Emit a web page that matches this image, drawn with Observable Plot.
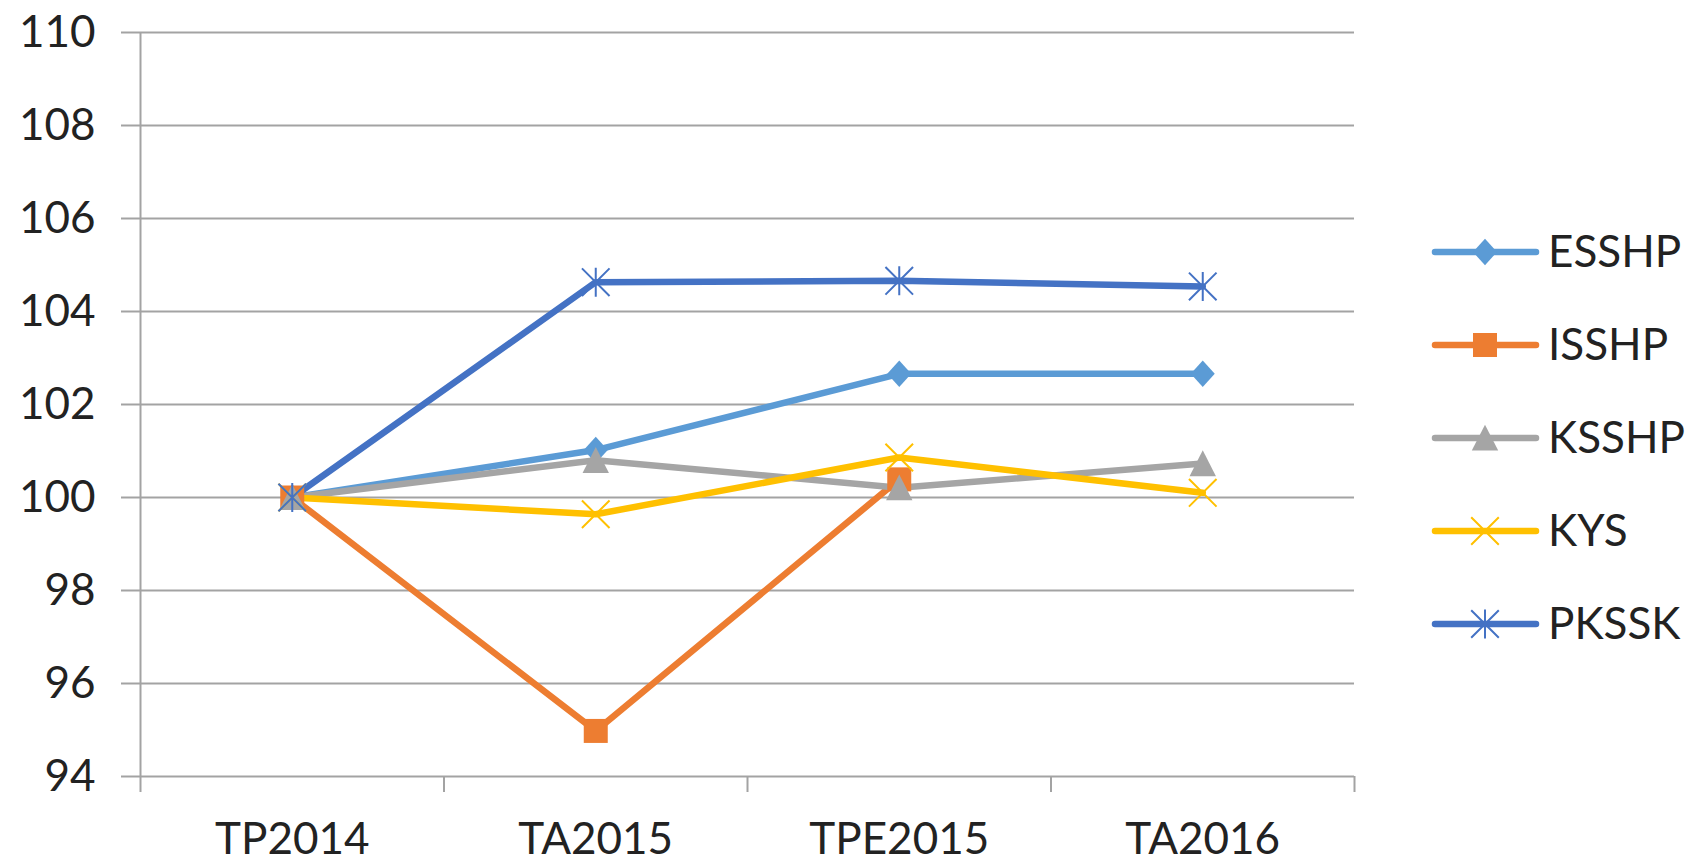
<!DOCTYPE html>
<html>
<head>
<meta charset="utf-8">
<script src="https://cdn.jsdelivr.net/npm/d3@7"></script>
<script src="https://cdn.jsdelivr.net/npm/@observablehq/plot@0.6"></script>
<style>
  html, body { margin: 0; padding: 0; background: #fff; }
  #wrap { position: relative; width: 1685px; height: 862px; font-family: Lato, "Open Sans", sans-serif; }
  #legend { position: absolute; left: 1400px; top: 200px; }
</style>
</head>
<body>
<div id="wrap"><div id="chart"></div><svg id="legend" width="285" height="470"></svg></div>
<script>
// ---- data ----
const categories = ["TP2014", "TA2015", "TPE2015", "TA2016"];
const seriesNames = ["ESSHP", "ISSHP", "KSSHP", "KYS", "PKSSK"];
const ESSHP = [100, 101.02, 102.66, 102.66];
const ISSHP = [100, 94.98, 100.39, null];
const KSSHP = [100, 100.80, 100.21, 100.73];
const KYS   = [100, 99.64, 100.86, 100.10];
const PKSSK = [100, 104.63, 104.66, 104.54];
const yTicks = [94, 96, 98, 100, 102, 104, 106, 108, 110];

// ---- styles ----
const colors = ["#5B9BD5", "#ED7D31", "#A5A5A5", "#FFC000", "#4472C4"];
const gridColor = "#a3a3a3";
const textColor = "#222";
const lineWidth = 6.5;

// custom Excel-like marker symbols
const sz = size => Math.sqrt(size / Math.PI);
const symbols = {
  diamond: {draw(c, size) { const s = sz(size); c.moveTo(0, -s * 1.1); c.lineTo(s, 0); c.lineTo(0, s * 1.1); c.lineTo(-s, 0); c.closePath(); }},
  square: {draw(c, size) { const s = sz(size); c.moveTo(-s, -s); c.lineTo(s, -s); c.lineTo(s, s); c.lineTo(-s, s); c.closePath(); }},
  triangle: {draw(c, size) { const s = sz(size); c.moveTo(0, -s * 1.1); c.lineTo(s * 1.1, s * 1.05); c.lineTo(-s * 1.1, s * 1.05); c.closePath(); }},
  x: {draw(c, size) { const s = sz(size) * 1.15; c.moveTo(-s, -s); c.lineTo(s, s); c.moveTo(-s, s); c.lineTo(s, -s); }},
  star: {draw(c, size) { const s = sz(size) * 1.15; c.moveTo(-s, -s); c.lineTo(s, s); c.moveTo(-s, s); c.lineTo(s, -s); c.moveTo(0, -s * 1.05); c.lineTo(0, s * 1.05); }}
};
const markerDefs = [
  {symbol: symbols.diamond, filled: true},
  {symbol: symbols.square, filled: true},
  {symbol: symbols.triangle, filled: true},
  {symbol: symbols.x, filled: false},
  {symbol: symbols.star, filled: false}
];

const seriesValues = [ESSHP, ISSHP, KSSHP, KYS, PKSSK];
const rows = [];
seriesNames.forEach((name, s) => {
  seriesValues[s].forEach((v, i) => {
    if (v != null) rows.push({series: name, i, v, cat: categories[i]});
  });
});

const indices = categories.map((_, i) => i);
const boundaries = [...indices.map(i => i - 0.5), categories.length - 0.5];
const xDomain = [boundaries[0], boundaries[boundaries.length - 1]];

const dotMarks = seriesNames.map((name, s) => {
  const m = markerDefs[s];
  return Plot.dot(rows.filter(d => d.series === name), {
    x: "i", y: "v", r: 12, symbol: () => m.symbol,
    fill: m.filled ? colors[s] : "none",
    stroke: m.filled ? "none" : colors[s],
    strokeWidth: m.filled ? 0 : 2
  });
});

const chart = Plot.plot({
  width: 1685,
  height: 862,
  marginLeft: 140,
  marginRight: 331,
  marginTop: 32,
  marginBottom: 86,
  style: {fontFamily: "Lato, 'Open Sans', sans-serif", fontSize: "44px", background: "#fff", color: textColor},
  x: {type: "linear", domain: xDomain},
  y: {domain: [yTicks[0], yTicks[yTicks.length - 1]]},
  symbol: {type: "identity"},
  color: {domain: seriesNames, range: colors},
  marks: [
    Plot.gridY(yTicks, {stroke: gridColor, strokeOpacity: 1, strokeWidth: 2}),
    Plot.ruleX([xDomain[0]], {stroke: gridColor, strokeWidth: 2}),
    Plot.axisY({ticks: yTicks, tickSize: 19, tickPadding: 26, stroke: gridColor, strokeWidth: 2, fill: textColor, label: null, fontSize: 44}),
    Plot.axisX({ticks: boundaries, tickSize: 16, tickFormat: () => "", stroke: gridColor, strokeWidth: 2, label: null}),
    Plot.axisX({ticks: indices, tickSize: 0, tickPadding: 46, tickFormat: i => categories[i], fill: textColor, label: null, fontSize: 44}),
    Plot.line(rows, {x: "i", y: "v", z: "series", stroke: "series", strokeWidth: lineWidth, strokeLinejoin: "round", strokeLinecap: "round"}),
    ...dotMarks
  ]
});
document.getElementById("chart").appendChild(chart);

// ---- legend ----
const legend = d3.select("#legend");
const rowGap = 93, top0 = 52;
seriesNames.forEach((name, s) => {
  const g = legend.append("g").attr("transform", `translate(0,${top0 + s * rowGap})`);
  g.append("line").attr("x1", 35).attr("x2", 136).attr("y1", 0).attr("y2", 0)
    .attr("stroke", colors[s]).attr("stroke-width", lineWidth).attr("stroke-linecap", "round");
  const m = markerDefs[s];
  g.append("path").attr("transform", "translate(85,0)")
    .attr("d", d3.symbol(m.symbol, Math.PI * 12 * 12)())
    .attr("fill", m.filled ? colors[s] : "none")
    .attr("stroke", m.filled ? "none" : colors[s])
    .attr("stroke-width", m.filled ? 0 : 2);
  g.append("text").attr("x", 148).attr("y", 0).attr("dy", "0.35em")
    .attr("font-family", "Lato, 'Open Sans', sans-serif").attr("font-size", 44)
    .attr("fill", textColor).text(name);
});
</script>
</body>
</html>
